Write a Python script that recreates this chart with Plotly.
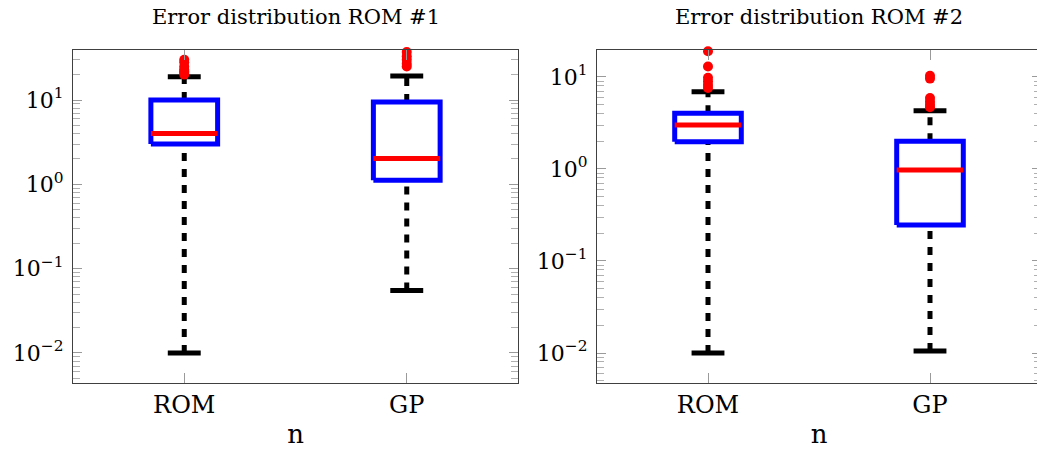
import plotly.graph_objects as go

# ---------------- data ----------------
categories = ["ROM", "GP"]
titles = ["Error distribution ROM #1", "Error distribution ROM #2"]

# panel 1 (ROM #1)
p1_q1 = [3.0, 1.12]
p1_median = [4.0, 2.03]
p1_q3 = [10.0, 9.5]
p1_lower = [0.01, 0.055]
p1_upper = [18.9, 19.3]
p1_outliers_rom = [20.0, 21.0, 22.0, 23.0, 25.0, 28.0, 30.0]
p1_outliers_gp = [25.0, 27.0, 30.0, 33.0, 37.0]

# panel 2 (ROM #2)
p2_q1 = [1.98, 0.246]
p2_median = [3.0, 0.975]
p2_q3 = [4.03, 2.0]
p2_lower = [0.01, 0.0105]
p2_upper = [6.9, 4.3]
p2_outliers_rom = [7.6, 8.2, 9.0, 9.8, 13.0, 19.0]
p2_outliers_gp = [4.7, 5.0, 5.4, 5.9, 9.6, 10.3]

ytick_vals = [0.01, 0.1, 1, 10]
ytick_text = ["10<sup>\u22122</sup>", "10<sup>\u22121</sup>", "10<sup>0</sup>", "10<sup>1</sup>"]

# ---------------- figure ----------------
W, H = 1042, 452
fig = go.Figure()

BOX_HW = 0.15
CAP_HW = 0.074
BLUE = "#0000ff"
RED = "#ff0000"


def add_panel(xa, ya, q1, med, q3, lo, hi, outs):
    for i in range(len(categories)):
        # whiskers (dotted)
        fig.add_trace(go.Scatter(x=[i, i], y=[q3[i], hi[i]], mode="lines", xaxis=xa, yaxis=ya,
                                 line=dict(color="black", width=5, dash="8px,8px"), hoverinfo="skip"))
        fig.add_trace(go.Scatter(x=[i, i], y=[lo[i], q1[i]], mode="lines", xaxis=xa, yaxis=ya,
                                 line=dict(color="black", width=5, dash="8px,8px"), hoverinfo="skip"))
        # caps
        for v in (lo[i], hi[i]):
            fig.add_trace(go.Scatter(x=[i - CAP_HW, i + CAP_HW], y=[v, v], mode="lines", xaxis=xa, yaxis=ya,
                                     line=dict(color="black", width=5), hoverinfo="skip"))
        # box
        fig.add_trace(go.Scatter(x=[i - BOX_HW, i + BOX_HW, i + BOX_HW, i - BOX_HW, i - BOX_HW],
                                 y=[q1[i], q1[i], q3[i], q3[i], q1[i]], mode="lines", xaxis=xa, yaxis=ya,
                                 line=dict(color=BLUE, width=5), hoverinfo="skip"))
        # median
        fig.add_trace(go.Scatter(x=[i - BOX_HW, i + BOX_HW], y=[med[i], med[i]], mode="lines", xaxis=xa, yaxis=ya,
                                 line=dict(color=RED, width=5), hoverinfo="skip"))
        # outliers
        fig.add_trace(go.Scatter(x=[i] * len(outs[i]), y=outs[i], mode="markers", xaxis=xa, yaxis=ya,
                                 marker=dict(color=RED, size=10, line=dict(width=0)), cliponaxis=False,
                                 hoverinfo="skip"))


add_panel("x", "y", p1_q1, p1_median, p1_q3, p1_lower, p1_upper, [p1_outliers_rom, p1_outliers_gp])
add_panel("x2", "y2", p2_q1, p2_median, p2_q3, p2_lower, p2_upper, [p2_outliers_rom, p2_outliers_gp])

minor_vals = [m * 10 ** k for k in range(-3, 2) for m in range(2, 10)]

FRAME = "#404040"
TICKC = "#9a9a9a"


def xaxis_style(domain):
    return dict(domain=domain, range=[-0.5, 1.5], tickmode="array", tickvals=[0, 1], ticktext=categories,
                ticks="inside", ticklen=10, tickwidth=1, tickcolor=TICKC, showline=True, linecolor=FRAME,
                linewidth=1.3, mirror="ticks", showgrid=False, zeroline=False, automargin=False,
                tickfont=dict(size=24, family="DejaVu Serif", color="black"),
                title=dict(text="n", font=dict(size=26, family="DejaVu Serif", color="black"), standoff=6),
                fixedrange=True)


def yaxis_style(domain, rng, anchor):
    return dict(domain=domain, type="log", range=rng, tickmode="array", tickvals=ytick_vals, ticktext=ytick_text,
                ticks="inside", ticklen=9, tickwidth=1.2, tickcolor=TICKC, showline=True, linecolor=FRAME,
                linewidth=1.3, mirror="ticks", showgrid=False, zeroline=False, automargin=False,
                anchor=anchor, ticklabelstandoff=4,
                tickfont=dict(size=22, family="DejaVu Serif", color="black"),
                minor=dict(tickmode="array", tickvals=minor_vals, ticks="inside", ticklen=7, tickwidth=1,
                           tickcolor="#b0b0b0", showgrid=False),
                fixedrange=True)


ydom = [1 - 383 / H, 1 - 50 / H]
fig.update_layout(
    width=W, height=H, margin=dict(l=0, r=0, t=0, b=0), autosize=False,
    paper_bgcolor="white", plot_bgcolor="white", showlegend=False,
    font=dict(family="DejaVu Serif", color="black"),
    xaxis=dict(xaxis_style([73 / W, 518 / W]), anchor="y"),
    yaxis=yaxis_style(ydom, [-2.356, 1.593], "x"),
    xaxis2=dict(xaxis_style([597 / W, 1041 / W]), anchor="y2"),
    yaxis2=yaxis_style(ydom, [-2.326, 1.293], "x2"),
)

centers = [(73 + 518) / 2 / W, (597 + 1041) / 2 / W]
for t, cx in zip(titles, centers):
    fig.add_annotation(text=t, x=cx, y=1 - 17 / H, xref="paper", yref="paper", xanchor="center",
                       yanchor="middle", showarrow=False,
                       font=dict(size=21, family="DejaVu Serif", color="black"))

fig.write_html("out.html",
               post_script="document.documentElement.style.overflow='hidden';document.body.style.overflow='hidden';")
